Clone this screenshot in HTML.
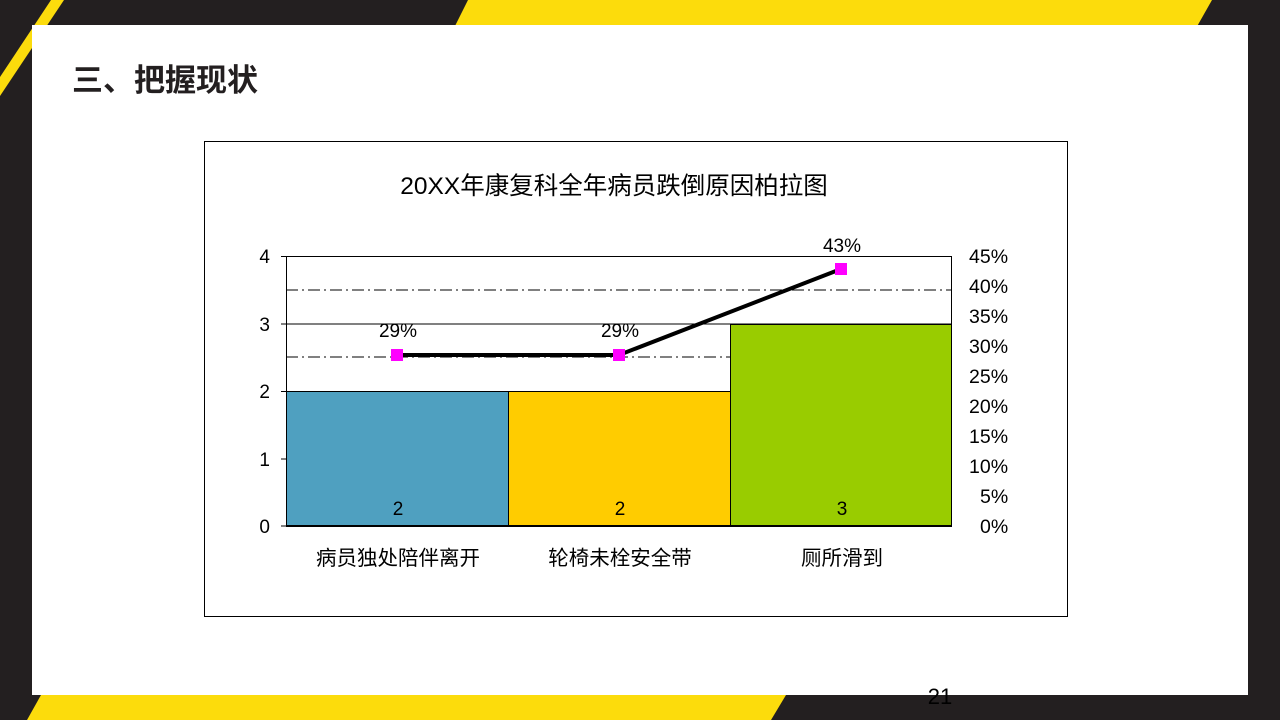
<!DOCTYPE html>
<html><head><meta charset="utf-8"><style>
body{margin:0;width:1280px;height:720px;overflow:hidden;background:#231f20;font-family:"Liberation Sans","Noto Sans CJK SC",sans-serif}
</style></head><body>
<svg width="1280" height="720" xmlns="http://www.w3.org/2000/svg" style="position:absolute;left:0;top:0">
<rect width="1280" height="720" fill="#231f20"/>
<polygon points="51,0 64,0 0,96 0,77" fill="#fcdc0c"/>
<polygon points="468,0 1212,0 1195,30 453,30" fill="#fcdc0c"/>
<polygon points="41,695 786,695 771,720 27,720" fill="#fcdc0c"/>
<rect x="32" y="25" width="1216" height="670" fill="#fff"/>
<text x="72" y="91" font-size="31" font-weight="bold" fill="#231f20" font-family="Liberation Sans,Noto Sans CJK SC,sans-serif">三、把握现状</text>
<rect x="204.5" y="141.5" width="863" height="475" fill="#fff" stroke="#000" stroke-width="1"/>
<text x="614" y="194" font-size="24.5" text-anchor="middle" fill="#000">20XX年康复科全年病员跌倒原因柏拉图</text>
<rect x="286.5" y="256.5" width="665" height="269" fill="#fff" stroke="#000"/>
<line x1="286" y1="324" x2="951" y2="324" stroke="#000"/>
<line x1="286" y1="290" x2="951" y2="290" stroke="#000" stroke-dasharray="12,4,2,4"/>
<line x1="286" y1="357" x2="951" y2="357" stroke="#000" stroke-dasharray="12,4,2,4"/>
<rect x="286.5" y="391.5" width="222" height="134" fill="#4fa0c0" stroke="#000"/>
<rect x="508.5" y="391.5" width="222" height="134" fill="#ffcc00" stroke="#000"/>
<rect x="730.5" y="324.5" width="221" height="201" fill="#99cc00" stroke="#000"/>
<line x1="286.5" y1="256" x2="286.5" y2="526" stroke="#000"/>
<line x1="286" y1="526.5" x2="952" y2="526.5" stroke="#000"/>
<g stroke="#000"><line x1="281" y1="256.5" x2="286" y2="256.5"/><line x1="281" y1="324" x2="286" y2="324"/><line x1="281" y1="391.5" x2="286" y2="391.5"/><line x1="281" y1="459" x2="286" y2="459"/><line x1="281" y1="526" x2="286" y2="526"/></g>
<g font-size="19" fill="#000" text-anchor="end"><text x="270" y="263">4</text><text x="270" y="331">3</text><text x="270" y="398">2</text><text x="270" y="466">1</text><text x="270" y="533">0</text></g>
<g font-size="19.5" fill="#000"><text x="969" y="263">45%</text><text x="969" y="293">40%</text><text x="969" y="323">35%</text><text x="969" y="353">30%</text><text x="969" y="383">25%</text><text x="969" y="413">20%</text><text x="969" y="443">15%</text><text x="969" y="473">10%</text><text x="980" y="503">5%</text><text x="980" y="533">0%</text></g>
<g font-size="19" fill="#000" text-anchor="middle"><text x="398" y="515">2</text><text x="620" y="515">2</text><text x="842" y="515">3</text>
<text x="398" y="337">29%</text><text x="620" y="337">29%</text><text x="842" y="252">43%</text></g>
<g font-size="20.5" fill="#000" text-anchor="middle"><text x="398" y="565">病员独处陪伴离开</text><text x="620" y="565">轮椅未栓安全带</text><text x="842" y="565">厕所滑到</text></g>
<polyline points="397,355 619,355 841,269" fill="none" stroke="#000" stroke-width="4"/>
<g fill="#ff00ff"><rect x="391" y="349" width="12" height="12"/><rect x="613" y="349" width="12" height="12"/><rect x="835" y="263" width="12" height="12"/></g>
<text x="940" y="704" font-size="22" text-anchor="middle" fill="#000">21</text>
</svg>
</body></html>
